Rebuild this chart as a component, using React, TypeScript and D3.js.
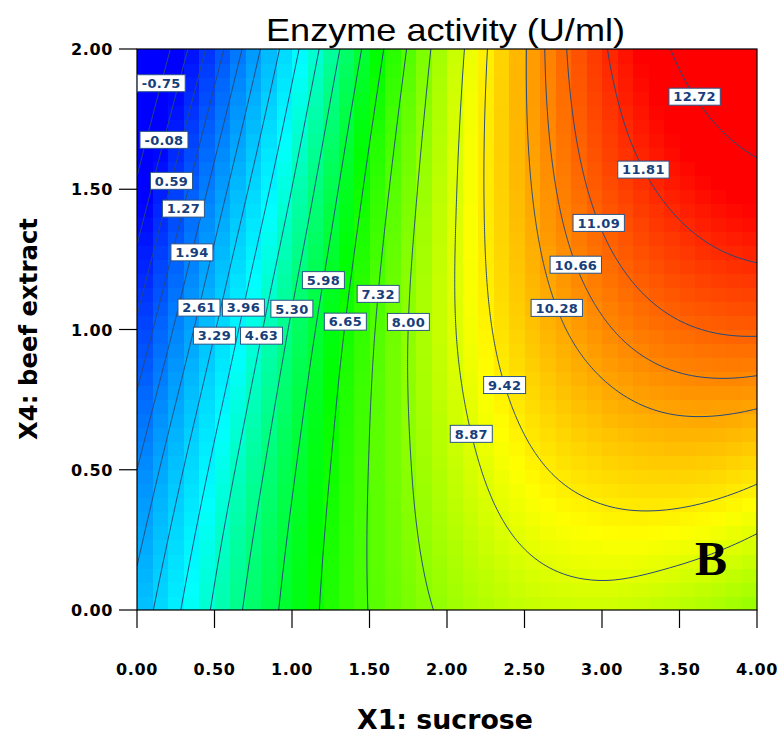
import React from "react";
import * as d3 from "d3";

// ---------- data ----------
// grid nodes of the response surface
const sucroseNodes = [0, 0.5, 1, 1.5, 2, 2.5, 3, 3.5, 4]; // X1
const beefExtractNodes = [0, 0.5, 1, 1.5, 2]; // X4
// enzyme activity (U/ml) at each node, one row per X4 level
const activityAtBeef000 = [2.87, 4.72, 6.21, 7.34, 8.11, 8.54, 8.65, 8.42, 8.03];
const activityAtBeef050 = [1.94, 4.12, 5.9, 7.34, 8.48, 9.26, 9.66, 9.78, 9.58];
const activityAtBeef100 = [0.72, 3.25, 5.4, 7.2, 8.72, 9.84, 10.58, 11.02, 11.16];
const activityAtBeef150 = [-0.62, 2.18, 4.64, 6.82, 8.66, 10.16, 11.27, 12.01, 12.46];
const activityAtBeef200 = [-2.05, 0.92, 3.72, 6.22, 8.43, 10.24, 11.72, 12.83, 13.54];

// contour levels (all labelled) and where their labels sit (X1, X4)
const contourLevels = [-0.75, -0.08, 0.59, 1.27, 1.94, 2.61, 3.29, 3.96, 4.63, 5.3, 5.98, 6.65, 7.32, 8.0, 8.87, 9.42, 10.28, 10.66, 11.09, 11.81, 12.72];
const labelSucrose = [0.154, 0.17, 0.218, 0.292, 0.347, 0.395, 0.499, 0.679, 0.8, 0.994, 1.194, 1.344, 1.559, 1.757, 2.168, 2.399, 2.742, 2.871, 3.013, 3.303, 3.632];
const labelBeef = [1.878, 1.676, 1.53, 1.431, 1.275, 1.078, 0.978, 1.078, 0.978, 1.074, 1.176, 1.028, 1.127, 1.027, 0.628, 0.802, 1.077, 1.231, 1.38, 1.57, 1.83];

const xTicks = [0, 0.5, 1, 1.5, 2, 2.5, 3, 3.5, 4];
const yTicks = [0, 0.5, 1, 1.5, 2];
const colorStops = [-0.2, 4.1, 6.5, 9.2, 12.3];
const colorRamp = ["#0000ff", "#00ffff", "#00ff00", "#ffff00", "#ff0000"];

const titleText = "Enzyme activity (U/ml)";
const xTitle = "X1: sucrose";
const yTitle = "X4: beef extract";
const panelLetter = "B";

// ---------- helpers ----------
function catmull(p: number[], t: number): number {
  const n = p.length;
  const get = (i: number) => {
    if (i < 0) return 3 * p[0] - 3 * p[1] + p[2];
    if (i > n - 1) return 3 * p[n - 1] - 3 * p[n - 2] + p[n - 3];
    return p[i];
  };
  let i = Math.floor(t);
  if (i > n - 2) i = n - 2;
  if (i < 0) i = 0;
  const s = t - i;
  const p0 = get(i - 1), p1 = get(i), p2 = get(i + 1), p3 = get(i + 2);
  return 0.5 * (2 * p1 + (-p0 + p2) * s + (2 * p0 - 5 * p1 + 4 * p2 - p3) * s * s + (-p0 + 3 * p1 - 3 * p2 + p3) * s * s * s);
}

const grid = [activityAtBeef000, activityAtBeef050, activityAtBeef100, activityAtBeef150, activityAtBeef200];

function surface(sx: number, sy: number): number {
  const u = (sx - sucroseNodes[0]) / (sucroseNodes[1] - sucroseNodes[0]);
  const v = (sy - beefExtractNodes[0]) / (beefExtractNodes[1] - beefExtractNodes[0]);
  const col = grid.map((r) => catmull(r, u));
  return catmull(col, v);
}

function textWidth(s: string, fs: number, ls: number): number {
  let w = 0;
  for (const ch of s) {
    if (ch === ".") w += 0.38 * fs;
    else if (ch === "-") w += 0.436 * fs;
    else w += 0.696 * fs;
    w += ls;
  }
  return w - ls;
}

const fmt2 = (v: number) => v.toFixed(2);

export default function App() {
  const left = 137, right = 757, top = 49, bottom = 610;
  const x = d3.scaleLinear().domain([0, 4]).range([left, right]);
  const y = d3.scaleLinear().domain([0, 2]).range([bottom, top]);
  const color = d3.scaleLinear<string>().domain(colorStops).range(colorRamp).interpolate(d3.interpolateRgb).clamp(true);

  // filled cells
  const ncx = 40, ncy = 40;
  const cw = 4 / ncx, ch = 2 / ncy;
  const cells: JSX.Element[] = [];
  for (let i = 0; i < ncx; i++) {
    for (let j = 0; j < ncy; j++) {
      const x0 = i * cw, y0 = j * ch;
      const v = surface(x0 + cw / 2, y0 + ch / 2);
      cells.push(
        <rect key={`c${i}-${j}`} x={x(x0)} y={y(y0 + ch)} width={x(x0 + cw) - x(x0) + 0.6} height={y(y0) - y(y0 + ch) + 0.6} fill={color(v)} />
      );
    }
  }

  // contour lines
  const nx = 311, ny = 281;
  const sxs = 4 / (nx - 1), sys = 2 / (ny - 1);
  const values: number[] = new Array(nx * ny);
  for (let j = 0; j < ny; j++) {
    for (let i = 0; i < nx; i++) {
      values[j * nx + i] = surface(i * sxs, 2 - j * sys);
    }
  }
  const contours = d3.contours().size([nx, ny]).thresholds(contourLevels)(values);
  const proj = d3.geoTransform({
    point: function (px: number, py: number) {
      // @ts-ignore
      this.stream.point(x((px - 0.5) * sxs), y(2 - (py - 0.5) * sys));
    },
  });
  const path = d3.geoPath(proj as any);

  // labels snapped to their line along the row
  const labels = contourLevels.map((lev, k) => {
    const ax = labelSucrose[k], ay = labelBeef[k];
    let best = ax, bestD = Infinity;
    const n = 120, span = 0.05;
    let prevX = ax - span, prevV = surface(prevX, ay) - lev;
    for (let s = 1; s <= n; s++) {
      const cx = ax - span + (2 * span * s) / n;
      const cv = surface(cx, ay) - lev;
      if ((prevV <= 0 && cv >= 0) || (prevV >= 0 && cv <= 0)) {
        const t = prevV === cv ? 0 : prevV / (prevV - cv);
        const rx = prevX + t * (cx - prevX);
        if (Math.abs(rx - ax) < bestD) { bestD = Math.abs(rx - ax); best = rx; }
      }
      prevX = cx; prevV = cv;
    }
    return { txt: fmt2(lev), px: x(best), py: y(ay) };
  });

  const tickFont = "'DejaVu Sans', Verdana, sans-serif";
  const lfs = 13, lls = 0.3;

  return (
    <svg width={781} height={736} style={{ position: "absolute", left: 0, top: 0, background: "#ffffff" }}>
      <defs>
        <clipPath id="plotClip">
          <rect x={left} y={top} width={right - left} height={bottom - top} />
        </clipPath>
      </defs>
      <g clipPath="url(#plotClip)" shapeRendering="crispEdges">{cells}</g>
      <g clipPath="url(#plotClip)">
        {contours.map((c, k) => (
          <path key={`l${k}`} d={path(c as any) || ""} fill="none" stroke="#27497a" strokeWidth={1} />
        ))}
      </g>
      <rect x={left} y={top} width={right - left} height={bottom - top} fill="none" stroke="#000" strokeWidth={1.2} />
      {/* ticks */}
      {xTicks.map((t) => (
        <g key={`xt${t}`}>
          <line x1={x(t)} x2={x(t)} y1={bottom} y2={bottom + 18} stroke="#000" strokeWidth={1.2} />
          <text x={x(t)} y={675} textAnchor="middle" fontFamily={tickFont} fontWeight="bold" fontSize={16} letterSpacing={0.6}>
            {fmt2(t)}
          </text>
        </g>
      ))}
      {yTicks.map((t) => (
        <g key={`yt${t}`}>
          <line x1={left - 18} x2={left} y1={y(t)} y2={y(t)} stroke="#000" strokeWidth={1.2} />
          <text x={113} y={y(t) + 6} textAnchor="end" fontFamily={tickFont} fontWeight="bold" fontSize={16} letterSpacing={0.6}>
            {fmt2(t)}
          </text>
        </g>
      ))}
      {/* contour labels */}
      {labels.map((l, k) => {
        const w = textWidth(l.txt, lfs, lls) + 9;
        return (
          <g key={`lb${k}`}>
            <rect x={l.px - w / 2} y={l.py - 8.5} width={w} height={17} fill="#ffffff" stroke="#2a5588" strokeWidth={1} />
            <text x={l.px} y={l.py + 4.8} textAnchor="middle" fontFamily={tickFont} fontWeight="bold" fontSize={lfs} letterSpacing={lls} fill="#17407a">
              {l.txt}
            </text>
          </g>
        );
      })}
      {/* titles */}
      <text x={445.5} y={41} textAnchor="middle" fontFamily="'Liberation Sans', Arial, sans-serif" fontSize={32} textLength={359} lengthAdjust="spacingAndGlyphs">
        {titleText}
      </text>
      <text x={445} y={729} textAnchor="middle" fontFamily={tickFont} fontWeight="bold" fontSize={27} textLength={176} lengthAdjust="spacingAndGlyphs">
        {xTitle}
      </text>
      <text transform="translate(37,329) rotate(-90)" textAnchor="middle" fontFamily={tickFont} fontWeight="bold" fontSize={24.5} textLength={222} lengthAdjust="spacingAndGlyphs">
        {yTitle}
      </text>
      <text x={695} y={575} fontFamily="'Liberation Serif', 'Times New Roman', serif" fontWeight="bold" fontSize={48}>
        {panelLetter}
      </text>
    </svg>
  );
}
